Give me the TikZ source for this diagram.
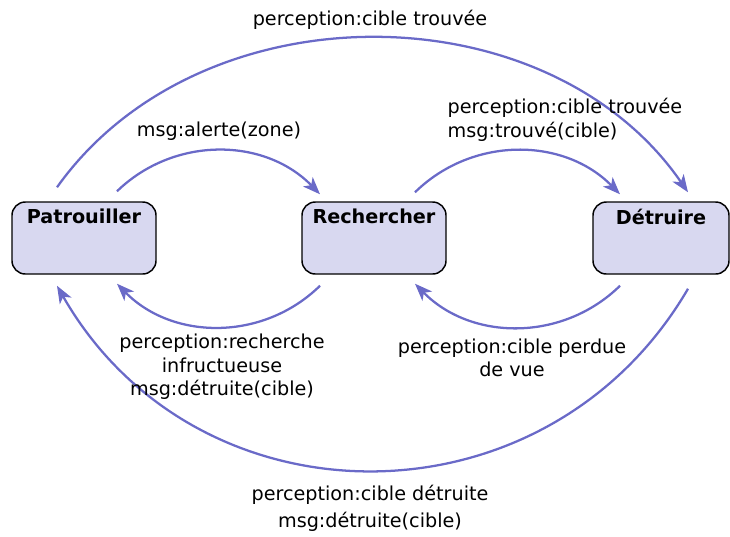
\documentclass[tikz,border=0pt]{standalone}
\usepackage{fontspec}
\setmainfont{DejaVu Sans}
\usetikzlibrary{arrows.meta}
\definecolor{arcblue}{RGB}{106,106,200}
\definecolor{etatfill}{RGB}{216,216,240}

\begin{document}
\begin{tikzpicture}[x=0.75pt, y=0.75pt,
    every node/.style={font=\fontsize{14.4}{17.6}\selectfont, text=black},
    etat/.style={draw=black, line width=1.1pt, fill=etatfill, rounded corners=10pt,
        minimum height=54pt, inner sep=0pt},
    etatlbl/.style={anchor=north, yshift=-2.5pt, font=\fontsize{14.4}{17.6}\selectfont\bfseries},
    trans/.style={arcblue, line width=1.7pt, -{Stealth[length=13pt, width=10pt, inset=3.5pt]}}]
    \useasboundingbox (0,0) rectangle (730,-536);
    % les trois etats
    \node[etat, minimum width=108pt, label={[name=patlbl, etatlbl]north:Patrouiller}] (pat) at (84,-238) {};
    \node[etat, minimum width=108pt, label={[name=rechlbl, etatlbl]north:Rechercher}] (rech) at (374,-238) {};
    \node[etat, minimum width=102pt, label={[name=detlbl, etatlbl]north:Détruire}] (det) at (661,-238) {};
    % transitions du haut
    \draw[trans] ([shift={(-27,14)}]pat.north) to[bend left=55] ([shift={(27,9)}]det.north);
    \draw[trans] ([shift={(33,10)}]pat.north) to[bend left=45] ([shift={(-54,7)}]rech.north);
    \draw[trans] ([shift={(41,9)}]rech.north) to[bend left=45] ([shift={(-41,7)}]det.north);
    % transitions du bas
    \draw[trans] ([shift={(-54,-11)}]rech.south) to[bend left=45] ([shift={(33,-9)}]pat.south);
    \draw[trans] ([shift={(-41,-11)}]det.south) to[bend left=45] ([shift={(41,-9)}]rech.south);
    \draw[trans] ([shift={(27,-14)}]det.south) to[bend left=60, looseness=1.14] ([shift={(-27,-11)}]pat.south);
    % etiquettes
    \node (lbtop) at (370,-20) {perception:cible trouvée};
    \node (lbalerte) at (219,-131) {msg:alerte(zone)};
    \node[align=left, anchor=west] (lbtrouve) at (443,-120) {perception:cible trouvée\\msg:trouvé(cible)};
    \node[align=center] (lbinfruct) at (222,-367) {perception:recherche\\infructueuse\\msg:détruite(cible)};
    \node[align=center] (lbperdue) at (512,-358) {perception:cible perdue\\de vue};
    \node[align=center, font=\fontsize{14.4}{20}\selectfont] (lbdetruite) at (370,-508) {perception:cible détruite\\msg:détruite(cible)};
\end{tikzpicture}
\end{document}
